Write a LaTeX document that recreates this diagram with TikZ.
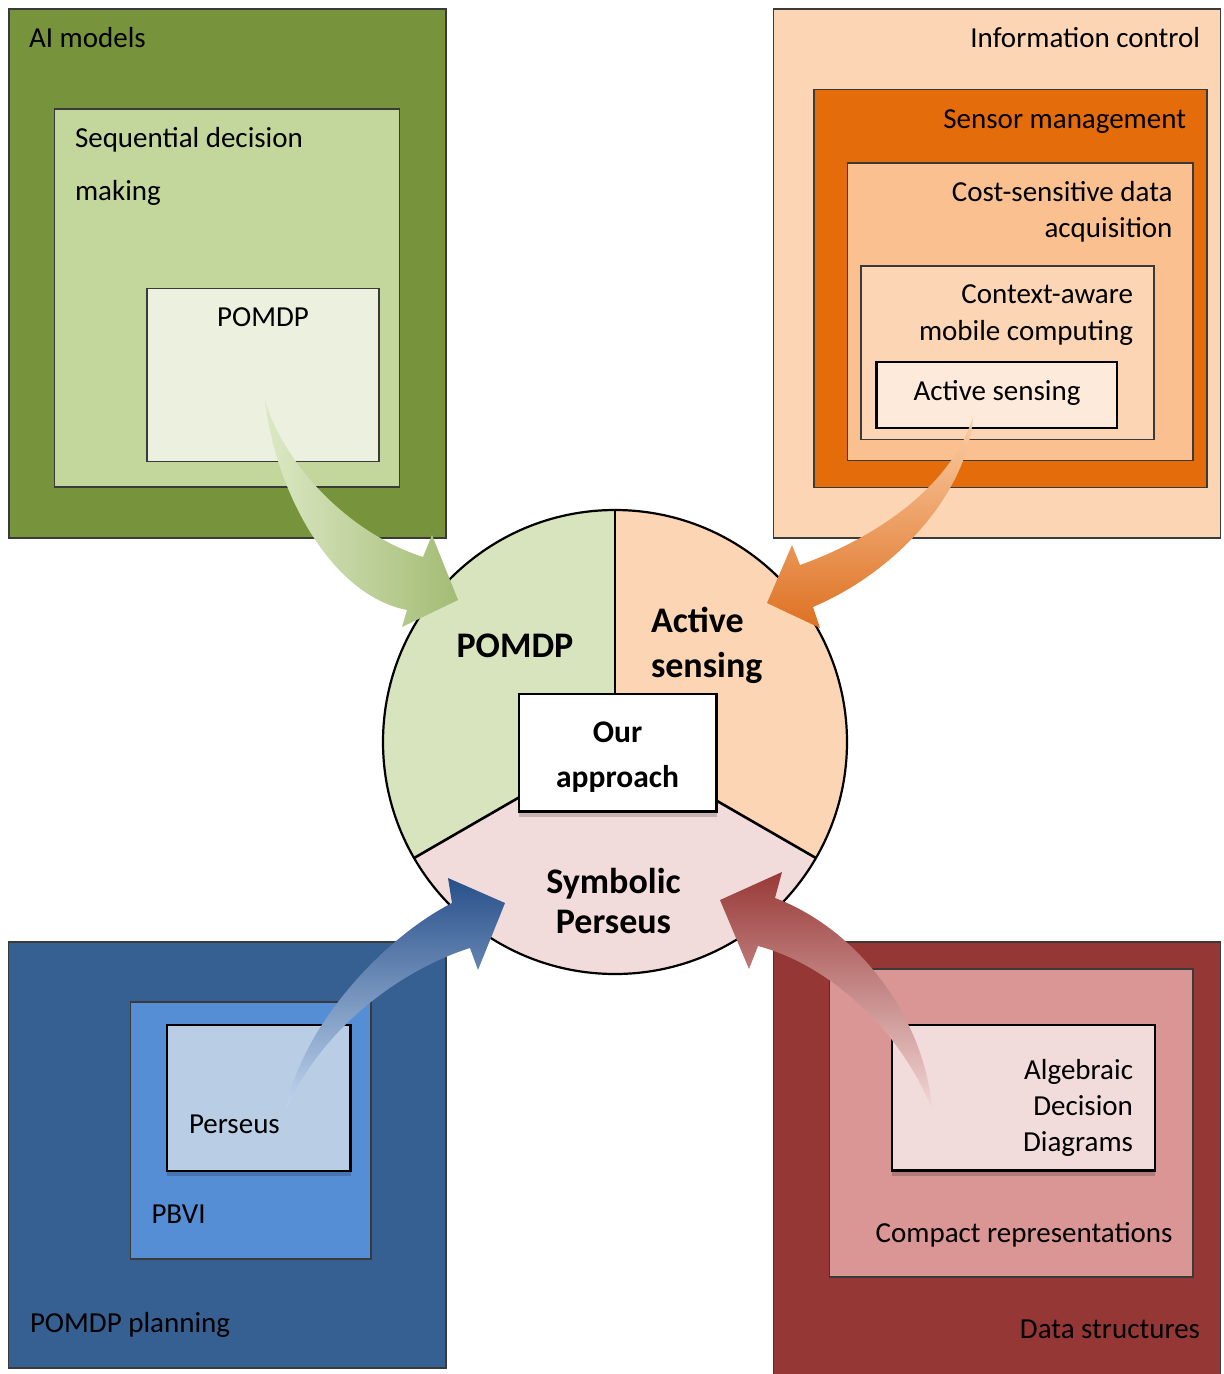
\documentclass[tikz,border=0pt]{standalone}
\usepackage{fontspec}
\setmainfont{Carlito}
\usetikzlibrary{shadows}
\definecolor{gOuter}{HTML}{77933C}
\definecolor{gMid}{HTML}{C3D69B}
\definecolor{gIn}{HTML}{EBF1DE}
\definecolor{gSec}{HTML}{D7E4BD}
\definecolor{oOuter}{HTML}{FCD5B5}
\definecolor{oMid}{HTML}{E46C0A}
\definecolor{oIn}{HTML}{FAC090}
\definecolor{oInB}{HTML}{FCD5B5}
\definecolor{oInC}{HTML}{FDEADA}
\definecolor{bOuter}{HTML}{366092}
\definecolor{bMid}{HTML}{558ED5}
\definecolor{bIn}{HTML}{B9CDE5}
\definecolor{rOuter}{HTML}{953735}
\definecolor{rMid}{HTML}{D99694}
\definecolor{rIn}{HTML}{F2DCDB}
\definecolor{edgegray}{HTML}{3A3A3A}
\definecolor{gArrA}{HTML}{DCE8C4}
\definecolor{gArrB}{HTML}{A3BC74}
\definecolor{oArrA}{HTML}{FBCDA5}
\definecolor{oArrB}{HTML}{DD7122}
\definecolor{bArrA}{HTML}{28508A}
\definecolor{bArrB}{HTML}{C2D6EF}
\definecolor{rArrA}{HTML}{983937}
\definecolor{rArrB}{HTML}{F1D9D8}
\tikzset{
  box/.style={rectangle, draw=edgegray, line width=1.2pt, inner sep=0pt, outer sep=0pt, anchor=north west},
  plainstrong/.style={rectangle, draw=black, line width=2.4pt, inner sep=0pt, outer sep=0pt, anchor=north west},
  strongbox/.style={plainstrong,
     drop shadow={shadow xshift=0pt, shadow yshift=-5pt, fill=black, opacity=0.18}},
  lab/.style={inner sep=0pt, outer sep=0pt, font=\fontsize{29}{35}\selectfont},
  biglab/.style={inner sep=0pt, outer sep=0pt, font=\bfseries\fontsize{36}{44}\selectfont},
  midlab/.style={inner sep=0pt, outer sep=0pt, font=\bfseries\fontsize{31.5}{40}\selectfont},
  divider/.style={draw=black, line width=2.6pt},
}
\begin{document}
\begin{tikzpicture}[x=1pt, y=-1pt]
\useasboundingbox (0,0) rectangle (1224,1374);

% ---------- top-left: AI models ----------
\node[box, fill=gOuter, minimum width=437pt, minimum height=529pt] (aiOuter) at (9,9) {};
\node[box, fill=gMid, minimum width=345pt, minimum height=378pt] (sdm) at (54.5,109) {};
\node[box, fill=gIn, minimum width=232pt, minimum height=173pt] (pomdpBox) at (147,288.5) {};
\node[lab, anchor=base west] (tAI) at (29,47) {AI models};
\node[lab, anchor=base west] (tSdm1) at (75,147) {Sequential decision};
\node[lab, anchor=base west] (tSdm2) at (75,200) {making};
\node[lab, anchor=base] (tPomdp) at (263,326) {POMDP};

% ---------- top-right: Information control ----------
\node[box, fill=oOuter, minimum width=447pt, minimum height=529pt] (infoOuter) at (773.5,9) {};
\node[box, fill=oMid, minimum width=393pt, minimum height=398pt] (sensorBox) at (814,89.5) {};
\node[box, fill=oIn, minimum width=345.5pt, minimum height=297.5pt] (costBox) at (847.5,163) {};
\node[box, fill=oInB, minimum width=293pt, minimum height=173.5pt] (ctxBox) at (861,266) {};
\node[plainstrong, fill=oInC, minimum width=240.5pt, minimum height=66pt] (asBox) at (876.5,362) {};
\node[lab, anchor=base east] (tInfo) at (1200,47) {Information control};
\node[lab, anchor=base east] (tSensor) at (1186,128) {Sensor management};
\node[lab, anchor=base east] (tCost1) at (1172.5,201) {Cost-sensitive data};
\node[lab, anchor=base east] (tCost2) at (1172.5,237) {acquisition};
\node[lab, anchor=base east] (tCtx1) at (1133,303.5) {Context-aware};
\node[lab, anchor=base east] (tCtx2) at (1133,340) {mobile computing};
\node[lab, anchor=base] (tAS) at (997,400) {Active sensing};

% ---------- bottom-left: POMDP planning ----------
\node[box, fill=bOuter, minimum width=437.5pt, minimum height=426pt] (planOuter) at (8.5,942) {};
\node[box, fill=bMid, minimum width=240.5pt, minimum height=257pt] (pbviBox) at (130.5,1002) {};
\node[strongbox, fill=bIn, minimum width=183.5pt, minimum height=146pt] (perseusBox) at (167,1025) {};
\node[lab, anchor=base west] (tPerseus) at (189,1133.5) {Perseus};
\node[lab, anchor=base west] (tPbvi) at (151.5,1223.5) {PBVI};
\node[lab, anchor=base west] (tPlan) at (30,1332) {POMDP planning};

% ---------- bottom-right: Data structures ----------
\node[box, fill=rOuter, minimum width=447pt, minimum height=440pt] (dsOuter) at (773.5,942) {};
\node[box, fill=rMid, minimum width=363.5pt, minimum height=308pt] (compactBox) at (829.5,969) {};
\node[strongbox, fill=rIn, minimum width=263pt, minimum height=145.5pt] (addBox) at (892,1025) {};
\node[lab, anchor=base east] (tAdd1) at (1133,1079.5) {Algebraic};
\node[lab, anchor=base east] (tAdd2) at (1133,1115) {Decision};
\node[lab, anchor=base east] (tAdd3) at (1133,1151) {Diagrams};
\node[lab, anchor=base east] (tCompact) at (1172.5,1242) {Compact representations};
\node[lab, anchor=base east] (tDs) at (1200,1338.5) {Data structures};

% ---------- central circle ----------
\coordinate (cc) at (615,742);
\coordinate (cTop) at (615,510);
\coordinate (cLL) at (414.1,858);
\coordinate (cLR) at (815.9,858);
\fill[gSec] (cc) -- (cTop) arc[start angle=-90, end angle=-210, radius=232] -- cycle;
\fill[oOuter] (cc) -- (cTop) arc[start angle=-90, end angle=30, radius=232] -- cycle;
\fill[rIn] (cc) -- (cLR) arc[start angle=30, end angle=150, radius=232] -- cycle;
\draw[divider] (cc) -- (cTop);
\draw[divider] (cc) -- (cLL);
\draw[divider] (cc) -- (cLR);
\draw[black, line width=2.2pt] (cc) circle[radius=232];

\node[biglab, anchor=base] (tSecPomdp) at (515,657) {POMDP};
\node[biglab, anchor=base west] (tSecAS1) at (651,632) {Active};
\node[biglab, anchor=base west] (tSecAS2) at (651,677) {sensing};
\node[biglab, anchor=base] (tSecSP1) at (613.5,893) {Symbolic};
\node[biglab, anchor=base] (tSecSP2) at (613.5,933) {Perseus};

\node[strongbox, fill=white, minimum width=197.5pt, minimum height=117.5pt] (ourBox) at (519,694) {};
\node[midlab, anchor=base] (tOur1) at (617.5,742) {Our};
\node[midlab, anchor=base] (tOur2) at (617.5,787) {approach};

% ---------- curved block arrows ----------
% green: POMDP box -> POMDP sector
\coordinate (gTail) at (265,400);
\coordinate (gTip) at (458,600);
\shade[left color=gArrA, right color=gArrB]
  (gTail) .. controls (280,455) and (340,530) .. (423,557)
  -- (432,535) -- (gTip) -- (402,627) -- (407,610)
  .. controls (330,595) and (275,490) .. (gTail) -- cycle;

% orange: Active sensing box -> Active sensing sector
\coordinate (oTail) at (973,417);
\coordinate (oTip) at (767,603);
\shade[top color=oArrA, bottom color=oArrB]
  (oTail) .. controls (968,490) and (900,570) .. (813,607)
  -- (820,628) -- (oTip) -- (792,545) -- (800,565)
  .. controls (870,540) and (950,490) .. (oTail) -- cycle;

% blue: Perseus box -> Symbolic Perseus sector
\coordinate (bTail) at (286,1110);
\coordinate (bTip) at (505,903);
\shade[top color=bArrA, bottom color=bArrB]
  (bTail) .. controls (300,1030) and (380,940) .. (452,903)
  -- (448,878) -- (bTip) -- (478,970) -- (470,948)
  .. controls (400,970) and (320,1030) .. (bTail) -- cycle;

% red: ADD box -> Symbolic Perseus sector
\coordinate (rTail) at (932,1109);
\coordinate (rTip) at (720,900);
\shade[top color=rArrA, bottom color=rArrB]
  (rTail) .. controls (925,1020) and (860,930) .. (775,898)
  -- (782,872) -- (rTip) -- (749,969) -- (758,946)
  .. controls (830,965) and (900,1030) .. (rTail) -- cycle;
\end{tikzpicture}
\end{document}
